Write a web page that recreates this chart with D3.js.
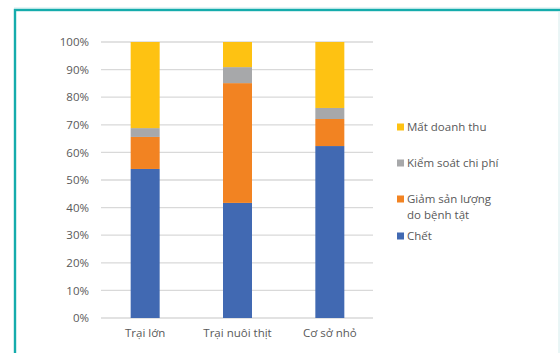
<!DOCTYPE html>
<html><head><meta charset="utf-8">
<script src="https://cdn.jsdelivr.net/npm/d3@7"></script>
<style>body{margin:0;background:#fff}svg{display:block}</style>
</head><body><div id="chart"></div>
<script>
const categories = ["Trại lớn", "Trại nuôi thịt", "Cơ sở nhỏ"];
const seriesNames = ["Chết", "Giảm sản lượng do bệnh tật", "Kiểm soát chi phí", "Mất doanh thu"];
const chet = [54.0, 41.7, 62.3];
const giamSanLuong = [11.6, 43.4, 9.8];
const kiemSoat = [3.2, 5.8, 4.0];
const matDoanhThu = [31.2, 9.1, 23.9];
const tickValues = [0, 10, 20, 30, 40, 50, 60, 70, 80, 90, 100];
const colors = ["#4169b2", "#f28322", "#a7a8aa", "#fec212"];

const W = 560, H = 353;
const svg = d3.select("#chart").append("svg").attr("width", W).attr("height", H);
const font = "'Open Sans', sans-serif";
const txt = "#595959";

// frame
svg.append("line").attr("x1", 14).attr("x2", W).attr("y1", 8).attr("y2", 8)
  .attr("stroke", "#cdebec").attr("stroke-width", 1);
svg.append("rect").attr("x", 15).attr("y", 10).attr("width", 600).attr("height", 400)
  .attr("fill", "none").attr("stroke", "#15acac").attr("stroke-width", 2.4);
svg.append("line").attr("x1", 559).attr("x2", 559).attr("y1", 12).attr("y2", H)
  .attr("stroke", "#d4eced").attr("stroke-width", 1);

const y = d3.scaleLinear().domain([0, 100]).range([318, 42]);
const x = d3.scaleBand().domain(categories).range([99, 376]).paddingInner(0.686).paddingOuter(0.343);

// gridlines
svg.append("g").selectAll("line").data(tickValues).join("line")
  .attr("x1", 101).attr("x2", 373).attr("y1", d => y(d)).attr("y2", d => y(d))
  .attr("stroke", "#d9d9d9").attr("stroke-width", 1.3);

const yAxis = d3.axisLeft(y).tickValues(tickValues).tickFormat(d => d + "%").tickSize(0).tickPadding(0);
const ga = svg.append("g").attr("transform", "translate(89,0)").call(yAxis);
ga.select(".domain").remove();
ga.selectAll("text").attr("font-family", font).attr("font-size", 11.5).attr("fill", txt);

const xAxis = d3.axisBottom(x).tickSize(0).tickPadding(0);
const gx = svg.append("g").attr("transform", "translate(0,329)").call(xAxis);
gx.select(".domain").remove();
gx.selectAll("text").attr("font-family", font).attr("font-size", 11.5).attr("fill", txt).attr("dy", "0.71em");

const rows = categories.map((c, i) => ({cat: c, s0: chet[i], s1: giamSanLuong[i], s2: kiemSoat[i], s3: matDoanhThu[i]}));
const stack = d3.stack().keys(["s0", "s1", "s2", "s3"])(rows);

svg.append("g").selectAll("g").data(stack).join("g").attr("fill", (d, i) => colors[i])
  .selectAll("rect").data(d => d).join("rect")
  .attr("x", d => x(d.data.cat)).attr("width", x.bandwidth())
  .attr("y", d => y(d[1])).attr("height", d => y(d[0]) - y(d[1]));

// legend
const legend = [
  {i: 3, lines: ["Mất doanh thu"], y: 127},
  {i: 2, lines: ["Kiểm soát chi phí"], y: 163},
  {i: 1, lines: ["Giảm sản lượng", "do bệnh tật"], y: 199},
  {i: 0, lines: ["Chết"], y: 236}
];
const lg = svg.append("g");
legend.forEach(l => {
  lg.append("rect").attr("x", 397).attr("y", l.y - 3.5).attr("width", 7).attr("height", 7).attr("fill", colors[l.i]);
  const t = lg.append("text").attr("x", 407).attr("y", l.y).attr("dy", "0.35em")
    .attr("font-family", font).attr("font-size", 11.5).attr("fill", txt);
  l.lines.forEach((s, k) => t.append("tspan").attr("x", 407).attr("dy", k === 0 ? "0.35em" : "1.4em").text(s));
});
</script></body></html>
